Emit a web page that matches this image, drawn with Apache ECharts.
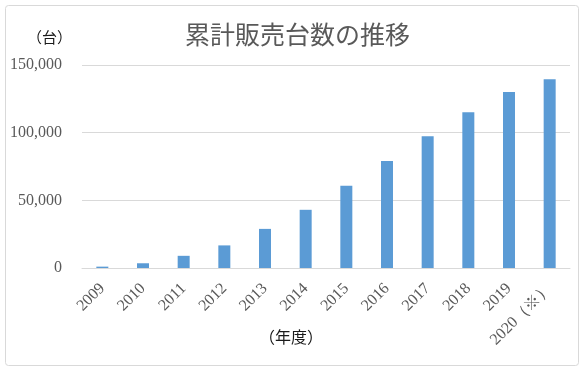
<!DOCTYPE html>
<html>
<head>
<meta charset="utf-8">
<script src="https://cdn.jsdelivr.net/npm/echarts@6/dist/echarts.min.js"></script>
<style>html,body{margin:0;padding:0;background:#fff;}#c{width:580px;height:367px;}</style>
</head>
<body>
<div id="c"></div>
<script>
const categories = ['2009','2010','2011','2012','2013','2014','2015','2016','2017','2018','2019','2020（※）'];
const salesValues = [1000, 3500, 9000, 16700, 28900, 43000, 60800, 79000, 97300, 115000, 130000, 139500];
const yTicks = [0, 50000, 100000, 150000];

const chart = echarts.init(document.getElementById('c'), null, {renderer: 'canvas'});
chart.setOption({
  animation: false,
  backgroundColor: '#fff',
  graphic: [{
    type: 'rect', left: 3, top: 3,
    shape: {width: 573, height: 360, r: 3},
    style: {fill: 'none', stroke: '#d9d9d9', lineWidth: 1},
    silent: true
  }, {
    type: 'text', left: 27, top: 30,
    style: {text: '（台）', font: '15px "Noto Sans CJK JP"', fill: '#1a1a1a'}
  }, {
    type: 'text', left: 259, top: 329,
    style: {text: '（年度）', font: '16px "Noto Sans CJK JP"', fill: '#1a1a1a'}
  }],
  title: {
    text: '累計販売台数の推移',
    left: 180, top: 17,
    textStyle: {fontFamily: '"Noto Sans CJK JP"', fontSize: 25, fontWeight: 'normal', color: '#595959'}
  },
  grid: {left: 82, right: 10, top: 65, bottom: 99, containLabel: false},
  xAxis: {
    type: 'category',
    data: categories,
    axisLine: {lineStyle: {color: '#d9d9d9'}},
    axisTick: {show: false},
    axisLabel: {
      rotate: 45, interval: 0, margin: 18,
      fontFamily: '"Liberation Serif"', fontSize: 16, color: '#595959'
    }
  },
  yAxis: {
    type: 'value',
    min: yTicks[0], max: yTicks[yTicks.length - 1], interval: yTicks[1] - yTicks[0],
    axisLine: {show: false},
    axisTick: {show: false},
    splitLine: {lineStyle: {color: '#d9d9d9'}},
    axisLabel: {
      margin: 20,
      fontFamily: '"Liberation Serif"', fontSize: 16, color: '#595959',
      formatter: v => v.toLocaleString('en-US')
    }
  },
  series: [{
    type: 'bar',
    data: salesValues,
    barWidth: 12,
    itemStyle: {color: '#5b9bd5'}
  }]
});
</script>
</body>
</html>
